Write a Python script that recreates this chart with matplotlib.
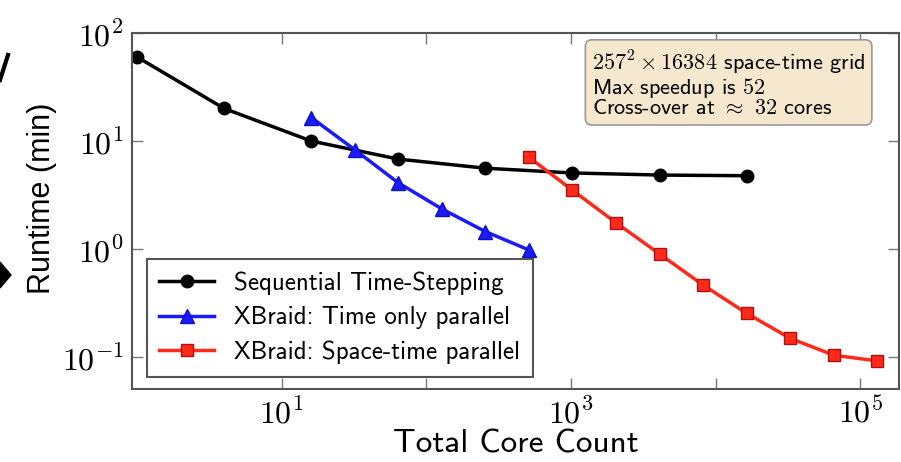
import matplotlib
matplotlib.use("Agg")
import matplotlib.pyplot as plt
from matplotlib.lines import Line2D
from matplotlib.patches import Polygon

# ---- data ----
seq_cores = [1, 4, 16, 64, 256, 1024, 4096, 16384]
seq_time = [60, 20, 10, 6.8, 5.6, 5.06, 4.84, 4.77]

time_cores = [16, 32, 64, 128, 256, 512]
time_time = [16.5, 8.3, 4.1, 2.35, 1.45, 0.98]

st_cores = [512, 1024, 2048, 4096, 8192, 16384, 32768, 65536, 131072]
st_time = [7.07, 3.5, 1.75, 0.90, 0.464, 0.254, 0.149, 0.104, 0.092]

xtick_vals = [1e1, 1e2, 1e3, 1e4, 1e5]
xtick_labels = [r'$10^{1}$', '', r'$10^{3}$', '', r'$10^{5}$']
ytick_vals = [1e-1, 1e0, 1e1, 1e2]
ytick_labels = [r'$10^{-1}$', r'$10^{0}$', r'$10^{1}$', r'$10^{2}$']

labels = ['Sequential Time-Stepping', 'XBraid: Time only parallel',
          'XBraid: Space-time parallel']
info_text = ("$257^2 \\times 16384$ space-time grid\n"
             "Max speedup is $52$\n"
             "Cross-over at $\\approx$ $32$ cores")

plt.rcParams['mathtext.fontset'] = 'cm'
plt.rcParams['font.family'] = ['cmss10', 'DejaVu Sans']
plt.rcParams['axes.unicode_minus'] = False

fig = plt.figure(figsize=(9.01, 4.62), dpi=100)
ax = fig.add_axes([132/901, 1-389/462, 767/901, 356/462])

ax.plot(seq_cores, seq_time, '-o', color='black', lw=2.5, ms=9, label=labels[0])
ax.plot(time_cores, time_time, '-^', color='#1a1aff', lw=2.5, ms=10,
        mfc='#1a1aff', mec='#1010c0', label=labels[1])
ax.plot(st_cores, st_time, '-s', color='#ff2a1a', lw=2.5, ms=9,
        mfc='#ff2a1a', mec='#b01010', label=labels[2])

ax.set_xscale('log')
ax.set_yscale('log')
ax.set_xlim(10**-0.035, 10**5.268)
ax.set_ylim(10**-1.296, 1e2)
ax.minorticks_off()
ax.set_xticks(xtick_vals)
ax.set_xticklabels(xtick_labels)
ax.set_yticks(ytick_vals)
ax.set_yticklabels(ytick_labels)
ax.tick_params(axis='both', which='major', direction='in', length=8, width=1,
               color='#777777', top=True, right=True, labelsize=23, pad=6)
for s in ax.spines.values():
    s.set_color('#555555')
    s.set_linewidth(1.5)

ax.set_xlabel('Total Core Count', fontsize=24, labelpad=0)
fig.text(42/901, 1-198/462, 'Runtime (min)', rotation=90, ha='center',
         va='center', fontsize=22, family=['Liberation Sans', 'DejaVu Sans'])

leg = ax.legend(loc='lower left', fontsize=18, fancybox=False, framealpha=1,
                edgecolor='#555555', handlelength=2.2, borderpad=0.5,
                labelspacing=0.45, bbox_to_anchor=(0.003, 0.0))
leg.get_frame().set_linewidth(1.5)

fig.text(592/901, 1-49/462, info_text, fontsize=16, va='top', ha='left',
         linespacing=0.95,
         bbox=dict(boxstyle='round,pad=0.3', fc='#f6e8cf', ec='#9a9a9a', lw=1.2))

# slide remnants at left edge
fig.add_artist(Line2D([0/901, 8/901], [1-80/462, 1-55/462], color='black', lw=3,
                      transform=fig.transFigure))
fig.add_artist(Polygon([[0, 1-262/462], [11/901, 1-275/462], [0, 1-288/462]],
                       closed=True, color='black', transform=fig.transFigure))

fig.savefig('out.png', dpi=100)
